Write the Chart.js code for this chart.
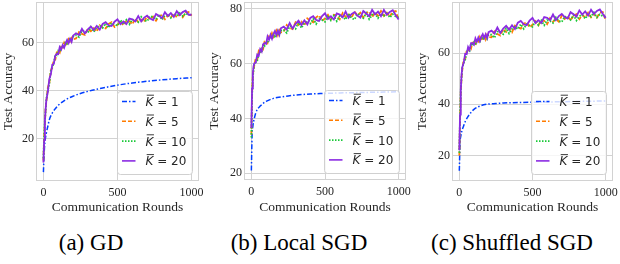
<!DOCTYPE html>
<html><head><meta charset="utf-8">
<script src="https://cdn.jsdelivr.net/npm/chart.js@4/dist/chart.umd.min.js"></script>
<style>
html,body{margin:0;padding:0;background:#fff;}
body{width:620px;height:264px;position:relative;overflow:hidden;}
canvas{position:absolute;top:0;}
.cap{position:absolute;top:230px;font-family:'Liberation Serif',serif;font-size:23px;color:#000;transform:translateX(-50%);white-space:nowrap;line-height:26px;}
</style></head><body>
<canvas id="ca" width="205" height="216" style="left:0px"></canvas>
<canvas id="cb" width="207" height="216" style="left:206px"></canvas>
<canvas id="cc" width="206" height="216" style="left:414px"></canvas>
<div class="cap" style="left:91px">(a) GD</div>
<div class="cap" style="left:299px">(b) Local SGD</div>
<div class="cap" style="left:512px">(c) Shuffled SGD</div>
<script>
// ---------- data ----------
const K_VALUES = [1, 5, 10, 20];
const X_TICKS = [0, 500, 1000];
const Y_TICKS_GD = [20, 40, 60];
const Y_TICKS_LSGD = [20, 40, 60, 80];
const Y_TICKS_SSGD = [20, 40, 60];
const X_TITLE = 'Communication Rounds';
const Y_TITLE = 'Test Accuracy';

const K1_ROUNDS = [0,5,10,20,30,40,60,80,100,150,200,250,300,400,500,600,700,800,900,1000];
const ROUNDS = [0,5,10,15,20,30,40,50,60,70,80,90,100,110,120,130,140,150,160,170,180,190,200,
  220,240,260,280,300,320,340,360,380,400,420,440,460,480,500,520,540,560,580,600,620,640,660,680,700,
  720,740,760,780,800,820,840,860,880,900,920,940,960,980,1000];

// (a) GD
const GD_K1 = [6.2,14.0,18.5,22.5,25.3,28.0,30.8,32.6,34.0,36.3,37.8,38.9,39.8,41.2,42.4,43.3,44.0,44.6,45.1,45.5];
const GD_K5 = [11.0,20.5,26.5,33.0,35.5,41.4,43.3,48.6,49.6,52.9,53.0,56.0,56.5,55.9,58.4,58.0,60.0,58.7,59.9,61.5,60.1,62.1,61.5,
  61.8,64.5,63.7,63.3,65.8,64.8,66.1,64.7,67.3,66.4,66.0,67.9,68.6,66.6,67.5,68.9,67.3,69.1,69.0,67.7,70.1,68.7,69.7,68.7,71.1,69.8,70.9,69.2,71.1,71.6,69.8,71.4,70.5,72.3,70.6,71.9,70.6,72.5,72.8,71.3];
const GD_K10 = [12.0,21.0,28.0,31.8,36.6,40.2,43.1,48.3,50.2,51.3,55.1,54.8,56.7,56.2,58.6,58.4,58.3,60.5,59.6,60.4,61.9,60.7,62.5,
  63.2,62.4,65.0,65.0,64.2,66.6,64.6,66.4,67.2,66.2,68.1,66.3,68.2,67.7,67.1,69.5,67.8,69.6,67.7,69.7,69.4,68.6,70.8,69.4,69.0,71.1,70.8,69.8,71.8,69.6,71.4,71.9,70.4,72.0,71.3,72.9,71.1,72.3,71.6,71.8];
const GD_K20 = [10.2,19.5,27.3,32.4,36.3,39.7,45.0,46.9,50.9,51.2,54.7,55.4,55.3,58.2,57.2,59.1,58.0,59.9,61.2,59.9,61.7,60.4,63.0,
  64.0,63.3,65.8,63.9,65.6,66.8,65.3,67.0,65.5,67.9,68.6,67.3,67.0,68.8,69.8,67.8,68.9,67.8,70.1,69.8,68.9,71.1,68.9,70.5,71.3,70.1,69.5,72.0,71.3,70.3,72.8,71.2,72.4,70.8,73.2,71.5,72.8,73.4,71.7,71.7];

// (b) Local SGD
const LSGD_K1 = [21.0,34.0,37.0,40.0,42.0,43.2,44.5,45.5,46.2,47.3,47.8,48.2,48.5,48.9,49.1,49.3,49.4,49.5,49.6,49.7];
const LSGD_K5 = [34.0,49.5,55.6,58.0,59.3,62.1,61.6,64.6,64.0,66.1,65.4,68.1,68.4,67.6,69.9,69.4,71.1,69.7,70.6,72.0,70.4,72.2,71.4,
  71.7,74.1,73.1,72.6,75.1,74.1,75.3,73.9,76.5,75.6,75.1,76.9,77.6,75.6,76.5,77.8,76.1,77.8,77.6,76.2,78.5,77.0,77.9,76.7,79.0,77.6,78.6,76.8,78.5,79.0,77.0,78.6,77.5,79.2,77.4,78.6,77.1,79.0,79.2,76.1];
const LSGD_K10 = [33.0,48.5,55.0,57.6,60.0,60.5,61.0,63.9,64.2,64.1,67.1,66.5,68.2,67.5,69.7,69.4,69.0,71.1,69.9,70.5,71.8,70.4,72.0,
  72.3,71.2,73.6,73.5,72.7,75.1,73.0,74.8,75.6,74.6,76.4,74.5,76.4,75.9,75.3,77.6,75.8,77.5,75.5,77.4,77.0,76.1,78.2,76.6,76.1,78.1,77.7,76.6,78.4,76.2,77.8,78.3,76.6,78.1,77.3,78.8,76.8,78.0,77.2,76.8];
const LSGD_K20 = [36.5,51.0,56.4,59.1,60.1,60.4,63.3,62.9,65.3,64.4,67.1,67.5,67.2,69.9,68.7,70.5,69.1,70.9,71.9,70.4,72.0,70.5,72.9,
  73.5,72.5,74.8,72.8,74.5,75.7,74.1,75.8,74.3,76.7,77.3,75.9,75.6,77.4,78.4,76.3,77.3,76.1,78.3,77.9,76.9,79.0,76.7,78.1,78.8,77.5,76.8,79.2,78.3,77.3,79.6,78.0,79.0,77.3,79.6,77.8,78.9,79.5,77.7,76.1];

// (c) Shuffled SGD
const SSGD_K1 = [14.0,25.0,27.5,30.0,31.6,33.2,35.3,36.8,38.0,39.5,40.1,40.3,40.5,40.7,40.8,40.9,41.0,41.1,41.2,41.3];
const SSGD_K5 = [20.0,34.0,44.5,50.0,53.3,57.5,57.6,60.9,60.7,62.6,61.8,64.1,64.1,63.1,65.3,64.6,66.3,64.8,65.7,67.1,65.4,67.2,66.3,
  66.2,68.5,67.5,66.9,69.4,68.3,69.6,68.2,70.8,70.0,69.6,71.5,72.1,70.1,71.1,72.5,70.9,72.7,72.6,71.3,73.7,72.3,73.3,72.3,74.7,73.4,74.5,72.8,74.6,75.2,73.3,74.9,74.0,75.8,74.0,75.3,73.9,75.8,76.1,73.0];
const SSGD_K10 = [21.0,35.5,45.2,50.6,54.3,56.2,57.3,60.5,61.2,60.9,63.8,62.8,64.2,63.3,65.4,64.9,64.5,66.5,65.3,65.9,67.1,65.7,67.2,
  67.2,66.0,68.4,68.2,67.4,69.7,67.7,69.5,70.3,69.4,71.3,69.5,71.3,70.8,70.3,72.7,71.0,72.8,70.9,72.9,72.6,71.8,74.0,72.6,72.2,74.3,74.0,73.0,74.9,72.8,74.5,75.0,73.5,75.1,74.3,75.9,74.0,75.2,74.5,74.1];
const SSGD_K20 = [22.0,36.0,45.8,51.2,54.5,56.2,59.7,59.6,62.4,61.3,63.9,63.9,63.3,65.8,64.5,66.1,64.7,66.4,67.4,65.9,67.4,65.9,68.2,
  68.8,67.7,70.0,67.9,69.6,70.7,69.2,70.9,69.4,71.9,72.6,71.3,70.9,72.7,73.8,71.8,72.9,71.8,74.1,73.8,72.9,75.1,72.9,74.5,75.3,74.1,73.5,76.0,75.2,74.3,76.7,75.1,76.3,74.7,77.0,75.3,76.5,77.1,75.4,73.8];

// ---------- styles ----------
const COLORS = ['#023eff', '#ff7c00', '#1ac938', '#8b2be2'];
const DASHES = [[5,2,1.5,2], [4,2], [1.5,1.5], []];
const WIDTHS = [1.5, 1.8, 1.8, 1.8];
const GRID = '#d2d2d2';
const TXT = '#262626';
const SERIF = "'Liberation Serif', 'Times New Roman', serif";

const framePlugin = {
  id: 'frameLegend',
  afterDatasetsDraw(chart) {
    const {ctx, chartArea: a} = chart;
    ctx.save();
    ctx.strokeStyle = GRID; ctx.lineWidth = 1; ctx.setLineDash([]);
    ctx.strokeRect(Math.round(a.left) + 0.5, Math.round(a.top) + 0.5, Math.round(a.right - a.left) - 1, Math.round(a.bottom - a.top) - 1);
    // legend
    const w = 75, h = 83;
    const x0 = Math.round(a.right - 7 - w) + 0.5, y0 = Math.round(a.bottom - 7 - h) + 0.5;
    ctx.beginPath();
    ctx.roundRect(x0, y0, w, h, 3);
    ctx.fillStyle = 'rgba(255,255,255,0.8)'; ctx.fill();
    ctx.strokeStyle = '#d0d0d0'; ctx.stroke();
    K_VALUES.forEach((k, i) => {
      const yc = y0 + 10 + i * 19.8;
      ctx.beginPath();
      ctx.strokeStyle = COLORS[i]; ctx.lineWidth = 1.6; ctx.setLineDash(DASHES[i]);
      ctx.moveTo(x0 + 4.5, yc); ctx.lineTo(x0 + 18, yc); ctx.stroke();
      ctx.setLineDash([]);
      const tx = x0 + 28;
      ctx.fillStyle = TXT; ctx.textBaseline = 'alphabetic'; ctx.textAlign = 'left';
      ctx.font = "italic 12px 'DejaVu Sans'";
      ctx.fillText('K', tx, yc + 4.4);
      const kw = ctx.measureText('K').width;
      ctx.beginPath(); ctx.strokeStyle = TXT; ctx.lineWidth = 0.9;
      ctx.moveTo(tx + 1.2, yc - 6.3); ctx.lineTo(tx + kw + 0.6, yc - 6.3); ctx.stroke();
      ctx.font = "12px 'DejaVu Sans'";
      ctx.fillText(' = ' + k, tx + kw, yc + 4.4);
    });
    ctx.restore();
  }
};

function build(id, series, k1, yMin, yMax, yTicks, yAxisW, xAxisH, padRight) {
  const datasets = [k1].concat(series).map((vals, i) => ({
    label: 'K = ' + K_VALUES[i],
    data: (i === 0 ? K1_ROUNDS : ROUNDS).map((x, j) => ({x: x, y: vals[j]})),
    borderColor: COLORS[i],
    borderDash: DASHES[i],
    borderWidth: WIDTHS[i],
    pointRadius: 0,
    tension: 0,
    cubicInterpolationMode: i === 0 ? 'monotone' : 'default',
    order: 3 - i,
    fill: false
  }));
  return new Chart(document.getElementById(id), {
    type: 'line',
    data: {datasets},
    options: {
      responsive: false, animation: false, devicePixelRatio: 1,
      layout: {padding: {top: 2, right: padRight, left: 0, bottom: 0}},
      plugins: {legend: {display: false}, tooltip: {enabled: false}},
      scales: {
        x: {
          type: 'linear', min: -50, max: 1050,
          afterBuildTicks: s => { s.ticks = X_TICKS.map(v => ({value: v})); },
          afterFit: s => { s.height = xAxisH; s.paddingLeft = 0; s.paddingRight = 0; },
          grid: {color: GRID, lineWidth: 1, drawTicks: false},
          border: {display: false},
          ticks: {padding: 5, color: TXT, autoSkip: false, maxRotation: 0, font: {family: SERIF, size: 12}, callback: v => String(v)},
          title: {display: true, text: X_TITLE, color: TXT, font: {family: SERIF, size: 13.5}, padding: 0}
        },
        y: {
          type: 'linear', min: yMin, max: yMax,
          afterBuildTicks: s => { s.ticks = yTicks.map(v => ({value: v})); },
          afterFit: s => { s.width = yAxisW; s.paddingTop = 0; s.paddingBottom = 0; },
          grid: {color: GRID, lineWidth: 1, drawTicks: false},
          border: {display: false},
          ticks: {padding: 2, color: TXT, autoSkip: false, font: {family: SERIF, size: 12}, callback: v => String(v)},
          title: {display: true, text: Y_TITLE, color: TXT, font: {family: SERIF, size: 13.5}, padding: 0}
        }
      }
    },
    plugins: [framePlugin]
  });
}

build('ca', [GD_K5, GD_K10, GD_K20], GD_K1, 2.5, 77, Y_TICKS_GD, 36, 35, 6);
build('cb', [LSGD_K5, LSGD_K10, LSGD_K20], LSGD_K1, 17.5, 82.5, Y_TICKS_LSGD, 38, 36, 7);
build('cc', [SSGD_K5, SSGD_K10, SSGD_K20], SSGD_K1, 10, 80, Y_TICKS_SSGD, 38, 35, 7);
</script>
</body></html>
